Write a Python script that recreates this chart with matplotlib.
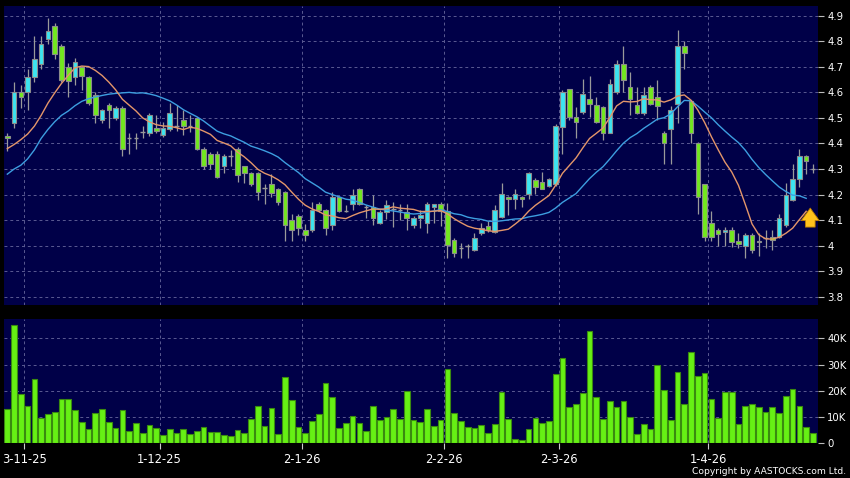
import numpy as np
import pandas as pd
import matplotlib
matplotlib.use("Agg")
import matplotlib.pyplot as plt

# ---------------- data ----------------
opens = [4.43, 4.48, 4.60, 4.60, 4.66, 4.71, 4.81, 4.86, 4.78, 4.70,
         4.66, 4.70, 4.66, 4.59, 4.49, 4.55, 4.50, 4.54, 4.42, 4.42,
         4.445, 4.44, 4.46, 4.435, 4.455, 4.47, 4.49, 4.468, 4.50, 4.38,
         4.36, 4.36, 4.31, 4.35, 4.38, 4.31, 4.285, 4.285, 4.225, 4.24,
         4.22, 4.21, 4.10, 4.115, 4.06, 4.06, 4.165, 4.14, 4.08, 4.19,
         4.135, 4.165, 4.22, 4.15, 4.15, 4.09, 4.13, 4.145, 4.14, 4.13,
         4.08, 4.11, 4.09, 4.15, 4.162, 4.136, 4.023, 3.99, 4.0, 3.983,
         4.051, 4.078, 4.055, 4.113, 4.192, 4.183, 4.192, 4.201, 4.259, 4.25,
         4.235, 4.24, 4.463, 4.612, 4.502, 4.522, 4.573, 4.551, 4.541, 4.442,
         4.60, 4.71, 4.62, 4.55, 4.52, 4.62, 4.58, 4.44, 4.455, 4.555,
         4.78, 4.565, 4.40, 4.24, 4.09, 4.06, 4.055, 4.06, 4.02, 4.0,
         4.04, 4.015, 4.03, 4.035, 4.035, 4.08, 4.18, 4.26, 4.35, 4.30]
highs = [4.44, 4.64, 4.63, 4.69, 4.82, 4.82, 4.89, 4.87, 4.79, 4.715,
         4.735, 4.705, 4.665, 4.60, 4.535, 4.56, 4.545, 4.545, 4.44, 4.44,
         4.47, 4.52, 4.51, 4.485, 4.557, 4.55, 4.53, 4.51, 4.505, 4.385,
         4.365, 4.37, 4.36, 4.375, 4.385, 4.31, 4.29, 4.29, 4.24, 4.28,
         4.225, 4.215, 4.125, 4.125, 4.085, 4.17, 4.17, 4.145, 4.21, 4.195,
         4.16, 4.22, 4.225, 4.16, 4.20, 4.14, 4.18, 4.17, 4.165, 4.165,
         4.115, 4.14, 4.172, 4.165, 4.17, 4.166, 4.03, 4.012, 4.005, 4.05,
         4.09, 4.095, 4.159, 4.244, 4.195, 4.221, 4.195, 4.29, 4.265, 4.29,
         4.265, 4.475, 4.61, 4.615, 4.544, 4.652, 4.664, 4.583, 4.545, 4.651,
         4.725, 4.78, 4.68, 4.62, 4.62, 4.63, 4.65, 4.45, 4.545, 4.845,
         4.80, 4.57, 4.405, 4.24, 4.135, 4.07, 4.075, 4.075, 4.05, 4.05,
         4.05, 4.05, 4.06, 4.06, 4.125, 4.245, 4.32, 4.38, 4.355, 4.32]
lows = [4.37, 4.46, 4.54, 4.53, 4.64, 4.69, 4.79, 4.73, 4.64, 4.58,
        4.63, 4.61, 4.55, 4.48, 4.48, 4.46, 4.49, 4.35, 4.36, 4.38,
        4.42, 4.43, 4.44, 4.425, 4.45, 4.45, 4.433, 4.446, 4.375, 4.30,
        4.30, 4.265, 4.285, 4.31, 4.25, 4.245, 4.235, 4.18, 4.165, 4.19,
        4.16, 4.02, 4.02, 4.04, 4.02, 4.055, 4.13, 4.04, 4.06, 4.13,
        4.13, 4.14, 4.16, 4.11, 4.08, 4.085, 4.105, 4.075, 4.10, 4.06,
        4.07, 4.07, 4.05, 4.09, 4.077, 3.95, 3.957, 3.95, 3.95, 3.98,
        4.042, 4.055, 4.05, 4.11, 4.12, 4.142, 4.153, 4.182, 4.202, 4.22,
        4.23, 4.235, 4.36, 4.49, 4.42, 4.515, 4.505, 4.48, 4.414, 4.44,
        4.595, 4.60, 4.51, 4.515, 4.51, 4.55, 4.49, 4.32, 4.32, 4.48,
        4.69, 4.40, 4.125, 4.02, 4.02, 4.0, 4.0, 3.995, 3.99, 3.95,
        3.97, 3.96, 3.99, 3.985, 4.03, 4.075, 4.175, 4.23, 4.28, 4.285]
closes = [4.42, 4.60, 4.58, 4.66, 4.73, 4.79, 4.84, 4.75, 4.65, 4.645,
          4.72, 4.665, 4.56, 4.51, 4.53, 4.53, 4.54, 4.38, 4.42, 4.42,
          4.445, 4.51, 4.45, 4.46, 4.52, 4.47, 4.47, 4.468, 4.38, 4.31,
          4.32, 4.27, 4.35, 4.35, 4.275, 4.285, 4.24, 4.21, 4.225, 4.205,
          4.17, 4.08, 4.06, 4.07, 4.04, 4.14, 4.14, 4.07, 4.19, 4.135,
          4.135, 4.20, 4.165, 4.15, 4.11, 4.13, 4.16, 4.145, 4.14, 4.11,
          4.11, 4.12, 4.163, 4.162, 4.135, 4.003, 3.97, 3.99, 4.0, 4.031,
          4.068, 4.061, 4.139, 4.201, 4.183, 4.201, 4.183, 4.283, 4.231, 4.221,
          4.26, 4.47, 4.60, 4.502, 4.483, 4.593, 4.554, 4.485, 4.442, 4.632,
          4.71, 4.65, 4.575, 4.52, 4.59, 4.555, 4.545, 4.40, 4.53, 4.78,
          4.755, 4.44, 4.19, 4.035, 4.035, 4.045, 4.06, 4.015, 4.005, 4.04,
          3.985, 4.02, 4.03, 4.022, 4.11, 4.20, 4.26, 4.35, 4.33, 4.30]
volumes_k = [13.1, 45.1, 18.8, 14.2, 24.4, 9.8, 11.0, 12.0, 16.8, 16.8,
             12.8, 8.1, 5.6, 11.7, 13.1, 8.1, 5.9, 12.8, 4.8, 7.7,
             3.9, 6.9, 5.8, 3.3, 5.3, 3.8, 5.6, 3.7, 4.8, 6.3,
             4.2, 4.2, 3.2, 2.9, 5.0, 4.0, 9.3, 14.1, 6.6, 13.4,
             3.5, 25.1, 16.4, 6.2, 3.9, 8.6, 11.2, 23.1, 17.8, 5.9,
             7.6, 10.4, 7.7, 4.7, 14.3, 8.8, 10.0, 13.1, 9.3, 19.9,
             8.8, 8.3, 13.2, 6.6, 8.9, 28.3, 11.7, 8.6, 6.2, 5.8,
             7.1, 3.9, 7.2, 19.5, 9.1, 1.5, 1.3, 5.3, 9.5, 7.9,
             8.5, 26.3, 32.4, 13.7, 15.0, 19.0, 42.8, 17.5, 9.1, 16.0,
             13.7, 16.0, 10.1, 3.4, 7.4, 5.6, 29.9, 20.3, 8.9, 27.0,
             15.0, 34.8, 25.6, 26.8, 16.8, 9.5, 19.7, 19.6, 7.4, 14.2,
             15.1, 13.9, 12.0, 13.9, 11.4, 18.1, 20.6, 14.2, 6.2, 3.9]
# moving-average values before enough history is on the chart
ma10_head = [4.38, 4.396, 4.415, 4.437, 4.468, 4.51, 4.558, 4.598, 4.635]
ma20_head = [4.28, 4.30, 4.315, 4.34, 4.375, 4.42, 4.455, 4.485, 4.51, 4.527,
             4.548, 4.565, 4.575, 4.582, 4.588, 4.593, 4.596, 4.598, 4.60]
month_labels = ["3-11-25", "1-12-25", "2-1-26", "2-2-26", "2-3-26", "1-4-26"]
month_start_idx = [3, 23, 44, 65, 82, 104]
price_ticks = [3.8, 3.9, 4.0, 4.1, 4.2, 4.3, 4.4, 4.5, 4.6, 4.7, 4.8, 4.9]
price_tick_labels = ["3.8", "3.9", "4", "4.1", "4.2", "4.3", "4.4", "4.5", "4.6", "4.7", "4.8", "4.9"]
vol_ticks = [0, 10, 20, 30, 40]
vol_tick_labels = ["0", "10K", "20K", "30K", "40K"]

# ---------------- derived ----------------
o = np.array(opens); h = np.array(highs); l = np.array(lows); c = np.array(closes)
v = np.array(volumes_k)
n = len(c)
x = np.arange(n)
cs = pd.Series(c)
ma10 = cs.rolling(10).mean().to_numpy()
ma10[:len(ma10_head)] = ma10_head
ma20 = cs.rolling(20).mean().to_numpy()
ma20[:len(ma20_head)] = ma20_head

# ---------------- style ----------------
W, H = 850, 478
NAVY = "#000048"
GRID = "#5a5a92"
UP = "#3ce4f0"
DOWN = "#72e81e"
EDGE = "#8c8c8c"
WICK = "#9a9a9a"
VOLC = "#66f014"
VOLE = "#3a8a10"

fig = plt.figure(figsize=(W / 100, H / 100), dpi=100, facecolor="black")

def px_axes(left, top, right, bottom):
    return fig.add_axes([left / W, 1 - bottom / H, (right - left) / W, (bottom - top) / H])

ax = px_axes(4, 6, 817.5, 305)
axv = px_axes(4, 319, 817.5, 443.3)

xlim = (-0.49, n - 0.33)
for a in (ax, axv):
    a.set_facecolor(NAVY)
    for s in a.spines.values():
        s.set_visible(False)
    a.set_xlim(*xlim)
    for mi in month_start_idx:
        a.axvline(mi - 0.5, color=GRID, lw=0.7, ls=(0, (3, 3)), zorder=0.5)

# ---------------- price panel ----------------
ax.set_ylim(3.768, 4.938)
for p in price_ticks:
    ax.axhline(p, color=GRID, lw=0.7, ls=(0, (3, 3)), zorder=0.5)

ax.vlines(x, l, h, color=WICK, lw=0.9, zorder=2)
doji = np.abs(c - o) < 0.004
up = (c > o) & ~doji
dn = (c <= o) & ~doji
bw = 0.68
ax.bar(x[up], (c - o)[up], bottom=o[up], width=bw, color=UP, edgecolor=EDGE, lw=0.8, zorder=3)
ax.bar(x[dn], (o - c)[dn], bottom=c[dn], width=bw, color=DOWN, edgecolor=EDGE, lw=0.8, zorder=3)
ax.hlines(c[doji], x[doji] - bw / 2, x[doji] + bw / 2, color=WICK, lw=1.0, zorder=3)

ax.plot(x[:-1], ma20[:-1], color="#3d9ee0", lw=1.0, zorder=4)
ax.plot(x[:-1], ma10[:-1], color="#e4966a", lw=1.0, zorder=4)

# up-arrow marker next to the latest bar
ax.annotate("", xy=(n - 1.4, 4.158), xytext=(n - 1.4, 4.062),
            arrowprops=dict(arrowstyle="simple,head_length=0.9,head_width=1.3,tail_width=0.7",
                            fc="#ffc21c", ec="#b87a00", lw=0.6),
            annotation_clip=False, zorder=6)

ax.yaxis.tick_right()
ax.set_yticks(price_ticks)
ax.set_yticklabels(price_tick_labels)
ax.tick_params(axis="y", colors="#bbbbbb", labelcolor="white", labelsize=7.3, length=4, width=0.8, pad=3)
ax.set_xticks([])

# ---------------- volume panel ----------------
axv.set_ylim(0, 47.35)
for t in vol_ticks[1:]:
    axv.axhline(t, color=GRID, lw=0.7, ls=(0, (3, 3)), zorder=0.5)
axv.bar(x, v, width=0.84, color=VOLC, edgecolor=VOLE, lw=0.8, zorder=3)
axv.yaxis.tick_right()
axv.set_yticks(vol_ticks)
axv.set_yticklabels(vol_tick_labels)
axv.tick_params(axis="y", colors="#bbbbbb", labelcolor="white", labelsize=7.3, length=4, width=0.8, pad=3)
axv.set_xticks([mi - 0.5 for mi in month_start_idx])
axv.set_xticklabels(month_labels)
axv.tick_params(axis="x", colors="#cccccc", labelcolor="white", labelsize=8.3, length=4, width=0.8, pad=3)

fig.text(846 / W, 1 - 471.5 / H, "Copyright by AASTOCKS.com Ltd.", color="white",
         fontsize=6.6, ha="right", va="center")

fig.savefig("out.png", dpi=100, facecolor="black")
